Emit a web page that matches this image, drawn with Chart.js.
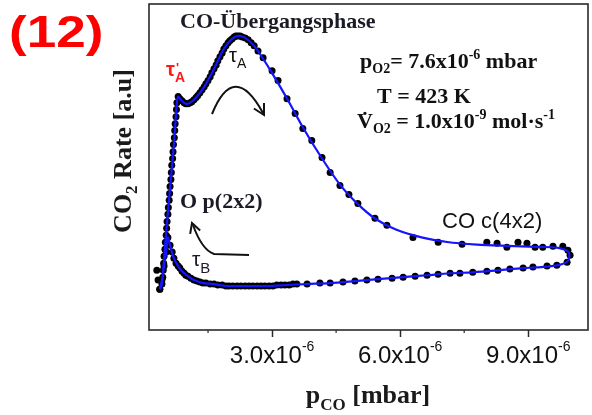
<!DOCTYPE html>
<html>
<head>
<meta charset="utf-8">
<script src="https://cdn.jsdelivr.net/npm/chart.js@4"></script>
<style>
  html, body { margin: 0; padding: 0; background: #fff; }
</style>
</head>
<body>
<canvas id="chart" width="592" height="415"></canvas>
<script>
// p_CO in units of 1e-6 mbar, CO2 rate in arbitrary units
const measuredPco = [
  0.30, 0.33, 0.37, 0.42,
  0.44, 0.45, 0.46, 0.47, 0.49, 0.50, 0.52, 0.53, 0.54, 0.56, 0.57, 0.59, 0.60, 0.61, 0.63, 0.64,
  0.65, 0.67, 0.68, 0.69, 0.71, 0.72, 0.73, 0.75, 0.76, 0.77, 0.80,
  0.84, 0.89, 0.94, 0.98, 1.03, 1.08, 1.12, 1.17, 1.22, 1.26, 1.31, 1.36, 1.41, 1.45, 1.50, 1.55,
  1.59, 1.64, 1.69, 1.73, 1.78, 1.83, 1.87, 1.92, 1.97, 2.01, 2.06, 2.11, 2.15, 2.20, 2.25, 2.30,
  2.37, 2.44, 2.51, 2.58, 2.67, 2.79,
  3.00, 3.14, 3.35, 3.54, 3.72, 3.93, 4.17, 4.36, 4.59, 4.80, 5.01, 5.41, 5.69, 6.30, 6.89, 7.45,
  8.03, 8.27, 8.50, 8.76, 8.97, 9.16, 9.34, 9.58, 9.81, 9.93, 9.98, 9.91, 9.67,
  9.44, 9.11, 8.88, 8.57, 8.29, 8.03, 7.70, 7.40, 7.17, 6.89, 6.63, 6.35, 6.07, 5.81, 5.48, 5.22,
  4.94, 4.66, 4.36, 4.12, 3.82, 3.58, 3.49, 3.40, 3.30, 3.21, 3.11, 3.02, 2.93, 2.83, 2.74, 2.65,
  2.55, 2.46, 2.37, 2.27, 2.18, 2.08, 1.99, 1.92, 1.83, 1.73, 1.64, 1.55, 1.45, 1.38, 1.31, 1.24,
  1.17, 1.10, 1.03, 0.98, 0.94, 0.89, 0.84, 0.80, 0.75, 0.70, 0.66, 0.61, 0.56,
  0.52, 0.47, 0.42, 0.37
];
const measuredRate = [
  18.3, 15.3, 12.5, 14.1,
  16.2, 18.3, 20.5, 22.6, 24.8, 26.9, 29.1, 31.2, 33.3, 35.5, 37.6, 39.8, 41.9, 44.0, 46.2, 48.3,
  50.5, 52.6, 54.7, 56.9, 59.0, 61.2, 63.3, 65.4, 67.6, 69.7, 71.6,
  70.9, 70.3, 69.7, 69.4, 69.4, 69.7, 70.0, 70.6, 71.3, 71.9, 72.8, 73.7, 74.6, 75.5, 76.5, 77.7,
  78.9, 80.1, 81.3, 82.6, 83.8, 85.0, 86.2, 87.2, 88.1, 88.7, 89.3, 89.9, 90.2, 90.2, 90.2, 89.9,
  89.6, 89.0, 88.1, 87.2, 85.6, 83.5,
  79.5, 76.5, 70.9, 66.4, 61.8, 58.1, 52.9, 48.3, 44.3, 41.6, 38.8, 34.3, 32.1, 28.4, 26.9, 26.3,
  26.9, 26.6, 25.4, 26.9, 26.6, 25.4, 25.4, 25.7, 25.7, 24.5, 22.9, 20.8, 19.9,
  19.6, 19.3, 19.0, 18.7, 18.3, 18.0, 17.7, 17.4, 17.4, 17.1, 16.8, 16.5, 16.2, 15.9, 15.6, 15.3,
  15.0, 14.7, 14.4, 14.4, 14.1, 14.1, 14.1, 13.8, 13.8, 13.8, 13.8, 13.5, 13.5, 13.5, 13.5, 13.5,
  13.5, 13.5, 13.5, 13.5, 13.5, 13.5, 13.5, 13.5, 13.8, 13.8, 14.1, 14.1, 14.4, 14.4, 14.7, 15.0,
  15.3, 15.9, 16.5, 16.8, 17.4, 18.0, 19.0, 19.6, 20.5, 22.0, 23.9, 26.0, 28.4,
  23.9, 19.6, 15.3, 12.5
];

// blue fitted curve
const fitPco = [
  0.37, 0.42, 0.50, 0.60, 0.70, 0.77, 0.80, 0.87, 0.98, 1.08, 1.22, 1.41, 1.64, 1.87, 2.06, 2.20,
  2.37, 2.58, 2.79, 3.00, 3.35, 3.72, 4.17, 4.59, 5.01, 5.41, 5.90, 6.50, 7.10, 7.80, 8.50, 9.20,
  9.70, 9.95, 9.93, 9.70,
  9.20, 8.88, 8.29, 7.70, 7.17, 6.63, 6.07, 5.48, 4.94, 4.36, 3.82, 3.35, 2.88, 2.37, 1.92, 1.64,
  1.38, 1.17, 1.03, 0.89, 0.80, 0.70, 0.61, 0.56, 0.52, 0.47, 0.42, 0.37
];
const fitRate = [
  12.5, 14.1, 27.0, 42.0, 57.0, 69.7, 71.6, 70.5, 69.4, 69.7, 71.3, 74.6, 80.1, 86.2, 89.3, 90.2,
  89.6, 87.2, 83.2, 78.8, 71.0, 62.2, 52.6, 44.6, 38.6, 34.2, 30.8, 28.4, 27.0, 26.2, 25.8, 25.5,
  25.2, 23.8, 21.2, 19.9,
  19.2, 19.0, 18.3, 17.7, 17.4, 16.8, 16.2, 15.6, 15.0, 14.4, 14.1, 13.8, 13.5, 13.5, 13.5, 14.1,
  14.4, 15.3, 16.5, 18.0, 19.6, 22.0, 26.0, 28.4, 23.9, 19.6, 15.3, 12.5
];

const xTickValues = [3, 6, 9];       // labelled ticks (x1e-6 mbar)
const xMinorTicks = [1.5, 4.5, 7.5];

const SERIF = "'Liberation Serif', 'Times New Roman', serif";
const SANS = "'Liberation Sans', Arial, sans-serif";

// draws [text, size, dy] pieces one after another
function drawRich(ctx, x, y, parts, family, weight, color, align) {
  let w = 0;
  parts.forEach(p => {
    ctx.font = weight + ' ' + p[1] + 'px ' + family;
    w += ctx.measureText(p[0]).width;
  });
  let cx = align === 'center' ? x - w / 2 : x;
  ctx.fillStyle = color;
  ctx.textAlign = 'left';
  ctx.textBaseline = 'alphabetic';
  parts.forEach(p => {
    ctx.font = weight + ' ' + p[1] + 'px ' + family;
    ctx.fillText(p[0], cx, y + (p[2] || 0));
    cx += ctx.measureText(p[0]).width;
  });
  return w;
}

function arrowHead(ctx, tx, ty, dx, dy, len) {
  const a = Math.atan2(dy, dx);
  ctx.beginPath();
  ctx.moveTo(tx - len * Math.cos(a - 0.5), ty - len * Math.sin(a - 0.5));
  ctx.lineTo(tx, ty);
  ctx.lineTo(tx - len * Math.cos(a + 0.5), ty - len * Math.sin(a + 0.5));
  ctx.stroke();
}

const decorations = {
  id: 'decorations',
  afterDraw(chart) {
    const ctx = chart.ctx;
    const area = chart.chartArea;
    const xs = chart.scales.x;
    ctx.save();

    // frame
    ctx.strokeStyle = '#2a2a2a';
    ctx.lineWidth = 1.6;
    ctx.strokeRect(area.left, area.top, area.right - area.left, area.bottom - area.top);

    // minor ticks
    ctx.lineWidth = 1.2;
    xMinorTicks.forEach(v => {
      const px = xs.getPixelForValue(v);
      ctx.beginPath();
      ctx.moveTo(px, area.bottom);
      ctx.lineTo(px, area.bottom + 3);
      ctx.stroke();
    });

    // tick labels
    xTickValues.forEach(v => {
      const px = xs.getPixelForValue(v);
      drawRich(ctx, px, 363, [[v.toFixed(1) + 'x10', 24, 0], ['-6', 14, -12]], SANS, 'normal', '#111', 'center');
    });

    // axis titles
    drawRich(ctx, 368, 403, [['p', 26, 0], ['CO', 17, 7], [' [mbar]', 26, 0]], SERIF, 'bold', '#1a1a1a', 'center');
    ctx.save();
    ctx.translate(131, 151);
    ctx.rotate(-Math.PI / 2);
    drawRich(ctx, 0, 0, [['CO', 26, 0], ['2', 17, 6], [' Rate [a.u]', 26, 0]], SERIF, 'bold', '#1a1a1a', 'center');
    ctx.restore();

    // panel number
    ctx.save();
    ctx.translate(9, 47);
    ctx.scale(1.18, 1);
    ctx.font = 'bold 45px ' + SANS;
    ctx.fillStyle = '#ff0000';
    ctx.textAlign = 'left';
    ctx.fillText('(12)', 0, 0);
    ctx.restore();

    // labels in the plot
    drawRich(ctx, 180, 28, [['CO-Übergangsphase', 22, 0]], SERIF, 'bold', '#1b1b26', 'left');
    drawRich(ctx, 180, 208, [['O p(2x2)', 22, 0]], SERIF, 'bold', '#1b1b26', 'left');
    drawRich(ctx, 442, 228, [['CO c(4x2)', 22, 0]], SANS, 'normal', '#111', 'left');

    drawRich(ctx, 166, 76, [['τ', 20, 0]], SANS, 'bold', '#ff1a1a', 'left');
    drawRich(ctx, 176, 72, [["'", 13, 0]], SANS, 'bold', '#ff1a1a', 'left');
    drawRich(ctx, 175, 82, [['A', 14, 0]], SANS, 'bold', '#ff1a1a', 'left');
    drawRich(ctx, 229, 62, [['τ', 20, 0], ['A', 14, 6]], SANS, 'normal', '#111', 'left');
    drawRich(ctx, 192, 266, [['τ', 21, 0], ['B', 15, 7]], SANS, 'normal', '#1b1b30', 'left');

    // conditions
    drawRich(ctx, 360, 68, [['p', 22, 0], ['O2', 14, 5], ['= 7.6x10', 22, 0], ['-6', 14, -9], [' mbar', 22, 0]], SERIF, 'bold', '#111', 'left');
    drawRich(ctx, 377, 103, [['T = 423 K', 22, 0]], SERIF, 'bold', '#111', 'left');
    const vw = drawRich(ctx, 357, 128, [['V', 22, 0]], SERIF, 'bold', '#111', 'left');
    drawRich(ctx, 357 + vw / 2, 127, [['˙', 22, 0]], SERIF, 'bold', '#111', 'center');
    drawRich(ctx, 357 + vw, 128, [['O2', 14, 5], [' = 1.0x10', 22, 0], ['-9', 14, -9], [' mol·s', 22, 0], ['-1', 14, -9]], SERIF, 'bold', '#111', 'left');

    // arrows
    ctx.strokeStyle = '#111';
    ctx.lineWidth = 2;
    ctx.beginPath();
    ctx.moveTo(212, 114);
    ctx.quadraticCurveTo(234, 60, 263, 113);
    ctx.stroke();
    arrowHead(ctx, 264, 115, 29, 53, 12);

    ctx.beginPath();
    ctx.moveTo(249, 255);
    ctx.lineTo(214, 254);
    ctx.quadraticCurveTo(202, 250, 193, 225);
    ctx.stroke();
    arrowHead(ctx, 192, 223, -9, -26, 11);

    ctx.restore();
  }
};

new Chart(document.getElementById('chart').getContext('2d'), {
  type: 'scatter',
  data: {
    datasets: [
      {
        label: 'fit',
        data: fitPco.map((x, i) => ({ x: x, y: fitRate[i] })),
        showLine: true,
        borderColor: '#1414ff',
        borderWidth: 2.2,
        tension: 0.3,
        pointRadius: 0,
        order: 0,
      },
      {
        label: 'measured',
        data: measuredPco.map((x, i) => ({ x: x, y: measuredRate[i] })),
        showLine: false,
        pointRadius: 3.5,
        pointBackgroundColor: '#000',
        pointBorderWidth: 0,
        order: 1,
      },
    ],
  },
  options: {
    responsive: false,
    animation: false,
    devicePixelRatio: 1,
    layout: { padding: { left: 0, right: 4, top: 3, bottom: 0 } },
    scales: {
      x: {
        type: 'linear',
        min: 0.117,
        max: 10.4,
        border: { display: false },
        grid: { drawOnChartArea: false, drawTicks: true, tickLength: 7, tickWidth: 1.5, tickColor: '#2a2a2a' },
        ticks: { display: false, stepSize: 3, includeBounds: false },
        afterFit: (scale) => { scale.height = 85; },
      },
      y: {
        min: 0,
        max: 100,
        border: { display: false },
        grid: { display: false },
        ticks: { display: false },
        afterFit: (scale) => { scale.width = 149; },
      },
    },
    plugins: {
      legend: { display: false },
      tooltip: { enabled: false },
    },
  },
  plugins: [decorations],
});
</script>
</body>
</html>
